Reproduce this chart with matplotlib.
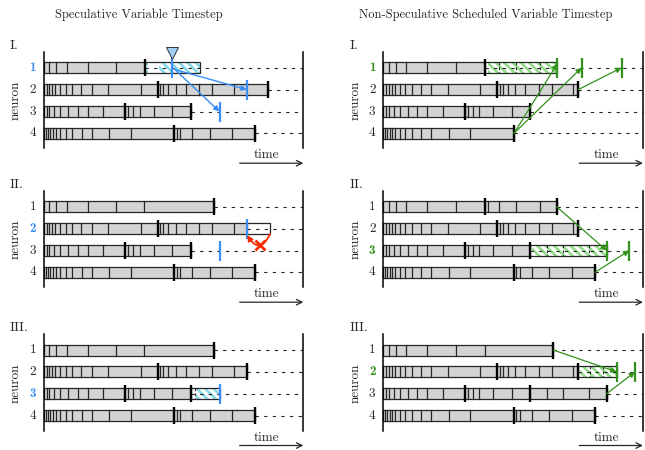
"""
plot.py

Speculative vs. non-speculative scheduled variable timestep diagram.
Six panels (I-III for each scheme), four neurons each.
"""

import matplotlib
matplotlib.use("Agg")
import matplotlib.pyplot as plt
from matplotlib.patches import Rectangle, FancyArrowPatch

plt.rcParams['lines.scale_dashes'] = False
plt.rcParams['hatch.linewidth'] = 1.9

# ---------------------------------------------------------------------------
# Data (time in panel units, 0 .. PANEL_W)
# ---------------------------------------------------------------------------
PANEL_W = 259.6
TITLES = ["Speculative Variable Timestep",
          "Non-Speculative Scheduled Variable Timestep"]
ROMAN = ["I.", "II.", "III."]
NEURONS = ["1", "2", "3", "4"]

# step boundaries (thin ticks) for each neuron
N1_TICKS = [5.5, 12.3, 23, 44, 72.3]
N1_TICKS_AFTER = [105, 115.7, 132.3, 156.7]
N2_TICKS = [3, 5.6, 8.6, 11.6, 16.3, 22, 28.6, 37.3, 48, 64.6, 97,
            116.5, 119.5, 124.6, 132, 142, 155.5, 168.6, 190]
N3_TICKS = [3, 5.6, 10.6, 16.6, 24.3, 34, 44, 59.6,
            84.5, 89.6, 96, 109.8, 128.2]
N3_TICKS_LATE = [163.3, 180, 206]
N4_TICKS = [2, 4, 6.3, 9, 12, 16.3, 22, 28.6, 38, 48, 65.6, 87,
            133, 136.5, 148.5, 166, 188.5]

# spike times (thick marks)
N1_SPIKE = 101.3
N2_SPIKE = 113.8
N3_SPIKE = 81.3
N4_SPIKE = 130.6

# bar ends per panel  [I, II, III]
SPEC_END = {1: [N1_SPIKE, 170.3, 170.3],
            2: [224.6, 203.0, 203.6],
            3: [147.0, 147.0, 147.0],
            4: [211.4, 211.4, 211.4]}
SCHED_END = {1: [N1_SPIKE, 173.3, 170.0],
             2: [195.0, 195.0, 195.0],
             3: [147.0, 147.0, 223.3],
             4: [N4_SPIKE, 211.6, 211.6]}

# speculative: blue event marks, pending boxes
SPEC_MARK_N1 = 128.6
SPEC_MARK_N2 = 203.0
SPEC_MARK_N3 = 175.8
SPEC_BOX_N1 = (N1_SPIKE, 156.3)
SPEC_BOX_N2 = (203.0, 226.4)
SPEC_BOX_N3 = (151.3, 175.8)

# scheduled: green event marks, pending boxes
SCHED_MARKS_I = [174.0, 198.3, 238.3]
SCHED_MARKS_II = [223.3, 246.0]
SCHED_MARKS_III = [233.3, 251.7]
SCHED_BOX_N1 = (N1_SPIKE, 174.0)
SCHED_BOX_N3 = (147.0, 223.3)
SCHED_BOX_N2 = (195.0, 233.3)
SCHED_BOX_TICKS_N2 = [207, 220]

# ---------------------------------------------------------------------------
# Layout / style
# ---------------------------------------------------------------------------
X0 = [43.7, 383.3]           # panel origin (x) for left / right
Y0 = [67.7, 206.7, 350.0]    # row of neuron 1 in panels I, II, III
DY = 21.9                    # row spacing
BAR_H = 11.0
BLUE = '#3a8ef6'
GREEN = '#32921c'
RED = '#ff2a00'
CYAN_H = '#86d9e8'
GREEN_H = '#93db8a'
GRAY = '#d3d3d3'
INK = '#262626'
FONT = 'cmr10'
FONT_B = 'cmb10'
HATCH = '\\\\\\\\'


def row_y(p, n):
    return Y0[p] + (n - 1) * DY


def draw_row(ax, x0, y, ticks, end, thick=(), box=None, hatch_from=None,
             hatch_color=None, box_ticks=()):
    # dotted continuation
    ax.plot([x0 + end, x0 + PANEL_W], [y, y], color=INK, lw=0.8,
            ls=(0, (2.4, 3.8)), zorder=1)
    ax.add_patch(Rectangle((x0, y - BAR_H / 2), end, BAR_H, facecolor=GRAY,
                           edgecolor=INK, lw=0.9, zorder=2))
    if box is not None:
        b0, b1 = box
        ax.add_patch(Rectangle((x0 + b0, y - BAR_H / 2), b1 - b0, BAR_H,
                               facecolor='white', edgecolor='none', zorder=2))
        if hatch_from is not None:
            ax.add_patch(Rectangle((x0 + hatch_from, y - BAR_H / 2),
                                   b1 - hatch_from, BAR_H, facecolor='none',
                                   edgecolor=hatch_color, hatch=HATCH,
                                   lw=0, zorder=2.5))
        ax.plot([x0 + b0, x0 + b1], [y, y], color=INK, lw=0.8,
                ls=(0, (2.4, 3.8)), zorder=3)
        ax.add_patch(Rectangle((x0 + b0, y - BAR_H / 2), b1 - b0, BAR_H,
                               facecolor='none', edgecolor=INK, lw=0.9,
                               zorder=4))
        for t in box_ticks:
            ax.plot([x0 + t] * 2, [y - BAR_H / 2, y + BAR_H / 2], color=INK,
                    lw=0.8, ls=(0, (2, 1.5)), zorder=4)
    for t in ticks:
        if t < end:
            ax.plot([x0 + t] * 2, [y - BAR_H / 2, y + BAR_H / 2], color=INK,
                    lw=0.9, zorder=3)
    for t in thick:
        ax.plot([x0 + t] * 2, [y - 8.5, y + 8.5], color='black', lw=1.7,
                solid_capstyle='butt', zorder=5)


def mark(ax, x0, y, t, color):
    ax.plot([x0 + t] * 2, [y - 10, y + 10], color=color, lw=1.6,
            solid_capstyle='butt', zorder=6)


def arrow(ax, p0, p1, color, lw=1.0, **kw):
    ax.add_patch(FancyArrowPatch(p0, p1, arrowstyle='-|>', mutation_scale=8,
                                 color=color, lw=lw, shrinkA=0, shrinkB=0,
                                 zorder=7, **kw))


def frame(ax, side, p, hl):
    x0 = X0[side]
    y1 = row_y(p, 1)
    ax.plot([x0, x0], [y1 - 16, y1 + 80.5], color='black', lw=1.1, zorder=4)
    ax.plot([x0 + PANEL_W] * 2, [y1 - 16, y1 + 80.5], color='black', lw=1.1,
            zorder=4)
    ax.text(x0 - 34, y1 - 22, ROMAN[p], fontsize=10, family=FONT,
            ha='left', va='center', color=INK)
    ax.text(x0 - 28, row_y(p, 2.5), "neuron", fontsize=9.5, family=FONT,
            rotation=90, ha='center', va='center', color=INK)
    hl_color = BLUE if side == 0 else GREEN
    for i, lab in enumerate(NEURONS):
        n = i + 1
        if n == hl:
            ax.text(x0 - 11, row_y(p, n), lab, fontsize=9.5, family=FONT_B,
                    ha='center', va='center', color=hl_color)
        else:
            ax.text(x0 - 11, row_y(p, n), lab, fontsize=9.5, family=FONT,
                    ha='center', va='center', color=INK)
    # time axis
    ax.text(x0 + 223, y1 + 87.5, "time", fontsize=9.5, family=FONT,
            ha='center', va='center', color=INK)
    ax.annotate('', xy=(x0 + PANEL_W, y1 + 95.5), xytext=(x0 + 196, y1 + 95.5),
                arrowprops=dict(arrowstyle='->', lw=0.9, color=INK,
                                shrinkA=0, shrinkB=0))


def main():
    fig = plt.figure(figsize=(6.45, 4.5), dpi=100)
    ax = fig.add_axes([0, 0, 1, 1])
    ax.set_xlim(0, 645)
    ax.set_ylim(450, 0)
    ax.axis('off')

    ax.text(X0[0] + 95, 15, TITLES[0], fontsize=9, family=FONT,
            ha='center', va='center', color=INK)
    ax.text(X0[1] + 102, 15, TITLES[1], fontsize=9, family=FONT,
            ha='center', va='center', color=INK)

    # ---------------- Speculative (left) ----------------
    x0 = X0[0]
    hl = [1, 2, 3]
    for p in range(3):
        frame(ax, 0, p, hl[p])

    # panel I
    p = 0
    draw_row(ax, x0, row_y(p, 1), N1_TICKS, SPEC_END[1][p], thick=[N1_SPIKE],
             box=SPEC_BOX_N1, hatch_from=115.5, hatch_color=CYAN_H)
    ax.add_patch(Rectangle((x0 + N1_SPIKE, row_y(p, 1) - BAR_H / 2), 3.0,
                           BAR_H, facecolor='none', edgecolor=CYAN_H,
                           hatch=HATCH, lw=0, zorder=2.5))
    draw_row(ax, x0, row_y(p, 2), N2_TICKS, SPEC_END[2][p],
             thick=[N2_SPIKE, SPEC_END[2][p]])
    draw_row(ax, x0, row_y(p, 3), N3_TICKS, SPEC_END[3][p],
             thick=[N3_SPIKE, SPEC_END[3][p]])
    draw_row(ax, x0, row_y(p, 4), N4_TICKS, SPEC_END[4][p],
             thick=[N4_SPIKE, SPEC_END[4][p]])
    mark(ax, x0, row_y(p, 1), SPEC_MARK_N1, BLUE)
    mark(ax, x0, row_y(p, 2), SPEC_MARK_N2, BLUE)
    mark(ax, x0, row_y(p, 3), SPEC_MARK_N3, BLUE)
    ax.plot([x0 + SPEC_MARK_N1], [row_y(p, 1) - 14.5], marker='v',
            markersize=9, markerfacecolor='#a3cff2', markeredgecolor='#333333',
            markeredgewidth=0.7, zorder=8)
    src = (x0 + SPEC_MARK_N1 + 2.5, row_y(p, 1) + 1.8)
    arrow(ax, src, (x0 + SPEC_MARK_N2, row_y(p, 2)), BLUE)
    arrow(ax, src, (x0 + SPEC_MARK_N3, row_y(p, 3)), BLUE)

    # panel II
    p = 1
    draw_row(ax, x0, row_y(p, 1), N1_TICKS + [N1_SPIKE - 1], SPEC_END[1][p],
             thick=[SPEC_END[1][p]])
    draw_row(ax, x0, row_y(p, 2), N2_TICKS, SPEC_END[2][p], thick=[N2_SPIKE],
             box=SPEC_BOX_N2)
    draw_row(ax, x0, row_y(p, 3), N3_TICKS, SPEC_END[3][p],
             thick=[N3_SPIKE, SPEC_END[3][p]])
    draw_row(ax, x0, row_y(p, 4), N4_TICKS, SPEC_END[4][p],
             thick=[N4_SPIKE, SPEC_END[4][p]])
    mark(ax, x0, row_y(p, 2), SPEC_MARK_N2, BLUE)
    mark(ax, x0, row_y(p, 3), SPEC_MARK_N3, BLUE)
    yb = row_y(p, 2) + BAR_H / 2
    arrow(ax, (x0 + SPEC_BOX_N2[1], yb), (x0 + SPEC_MARK_N2 + 0.5, yb + 1),
          RED, lw=1.3, connectionstyle='arc3,rad=-0.9')
    ax.plot([x0 + (SPEC_BOX_N2[0] + SPEC_BOX_N2[1]) / 2 + 1.5], [yb + 11],
            marker='x', markersize=6.5, markeredgewidth=2, color=RED, zorder=8)

    # panel III
    p = 2
    draw_row(ax, x0, row_y(p, 1), N1_TICKS + [N1_SPIKE - 1], SPEC_END[1][p],
             thick=[SPEC_END[1][p]])
    draw_row(ax, x0, row_y(p, 2), N2_TICKS, SPEC_END[2][p],
             thick=[N2_SPIKE, SPEC_END[2][p]])
    draw_row(ax, x0, row_y(p, 3), N3_TICKS, SPEC_END[3][p],
             thick=[N3_SPIKE, SPEC_END[3][p]], box=(SPEC_END[3][p],
                                                    SPEC_BOX_N3[1]),
             hatch_from=SPEC_BOX_N3[0] + 1, hatch_color=CYAN_H,
             box_ticks=[SPEC_BOX_N3[0]])
    draw_row(ax, x0, row_y(p, 4), N4_TICKS, SPEC_END[4][p],
             thick=[N4_SPIKE, SPEC_END[4][p]])
    mark(ax, x0, row_y(p, 3), SPEC_MARK_N3, BLUE)

    # ---------------- Scheduled (right) ----------------
    x0 = X0[1]
    hl = [1, 3, 2]
    for p in range(3):
        frame(ax, 1, p, hl[p])

    # panel I
    p = 0
    draw_row(ax, x0, row_y(p, 1), N1_TICKS, SCHED_END[1][p], thick=[N1_SPIKE],
             box=SCHED_BOX_N1, hatch_from=N1_SPIKE + 3, hatch_color=GREEN_H,
             box_ticks=N1_TICKS_AFTER[1:])
    draw_row(ax, x0, row_y(p, 2), N2_TICKS, SCHED_END[2][p],
             thick=[N2_SPIKE, SCHED_END[2][p]])
    draw_row(ax, x0, row_y(p, 3), N3_TICKS, SCHED_END[3][p],
             thick=[N3_SPIKE, SCHED_END[3][p]])
    draw_row(ax, x0, row_y(p, 4), N4_TICKS, SCHED_END[4][p],
             thick=[N4_SPIKE])
    for t in SCHED_MARKS_I:
        mark(ax, x0, row_y(p, 1), t, GREEN)
    arrow(ax, (x0 + SCHED_END[4][p], row_y(p, 4)),
          (x0 + SCHED_MARKS_I[0], row_y(p, 1) - 4), GREEN, lw=0.9)
    arrow(ax, (x0 + SCHED_END[4][p], row_y(p, 4)),
          (x0 + SCHED_MARKS_I[1], row_y(p, 1)), GREEN, lw=0.9)
    arrow(ax, (x0 + SCHED_END[2][p], row_y(p, 2)),
          (x0 + SCHED_MARKS_I[2], row_y(p, 1)), GREEN, lw=0.9)

    # panel II
    p = 1
    draw_row(ax, x0, row_y(p, 1), N1_TICKS + N1_TICKS_AFTER, SCHED_END[1][p],
             thick=[N1_SPIKE, SCHED_END[1][p]])
    draw_row(ax, x0, row_y(p, 2), N2_TICKS, SCHED_END[2][p],
             thick=[N2_SPIKE, SCHED_END[2][p]])
    draw_row(ax, x0, row_y(p, 3), N3_TICKS, SCHED_END[3][p],
             thick=[N3_SPIKE, SCHED_END[3][p]], box=SCHED_BOX_N3,
             hatch_from=SCHED_BOX_N3[0] + 2, hatch_color=GREEN_H,
             box_ticks=N3_TICKS_LATE)
    draw_row(ax, x0, row_y(p, 4), N4_TICKS, SCHED_END[4][p],
             thick=[N4_SPIKE, SCHED_END[4][p]])
    for t in SCHED_MARKS_II:
        mark(ax, x0, row_y(p, 3), t, GREEN)
    arrow(ax, (x0 + SCHED_END[1][p], row_y(p, 1)),
          (x0 + SCHED_MARKS_II[0], row_y(p, 3)), GREEN, lw=0.9)
    arrow(ax, (x0 + SCHED_END[4][p], row_y(p, 4)),
          (x0 + SCHED_MARKS_II[1], row_y(p, 3)), GREEN, lw=0.9)

    # panel III
    p = 2
    draw_row(ax, x0, row_y(p, 1), N1_TICKS + [N1_SPIKE], SCHED_END[1][p],
             thick=[SCHED_END[1][p]])
    draw_row(ax, x0, row_y(p, 2), N2_TICKS, SCHED_END[2][p],
             thick=[N2_SPIKE, SCHED_END[2][p]], box=SCHED_BOX_N2,
             hatch_from=SCHED_BOX_N2[0] + 2, hatch_color=GREEN_H,
             box_ticks=SCHED_BOX_TICKS_N2)
    draw_row(ax, x0, row_y(p, 3), N3_TICKS + N3_TICKS_LATE, SCHED_END[3][p],
             thick=[N3_SPIKE, 147.0, SCHED_END[3][p]])
    draw_row(ax, x0, row_y(p, 4), N4_TICKS, SCHED_END[4][p],
             thick=[N4_SPIKE, SCHED_END[4][p]])
    for t in SCHED_MARKS_III:
        mark(ax, x0, row_y(p, 2), t, GREEN)
    arrow(ax, (x0 + SCHED_END[1][p], row_y(p, 1)),
          (x0 + SCHED_MARKS_III[0], row_y(p, 2)), GREEN, lw=0.9)
    arrow(ax, (x0 + SCHED_END[3][p], row_y(p, 3)),
          (x0 + SCHED_MARKS_III[1], row_y(p, 2)), GREEN, lw=0.9)

    fig.savefig("out.png", dpi=100)


if __name__ == '__main__':
    main()
